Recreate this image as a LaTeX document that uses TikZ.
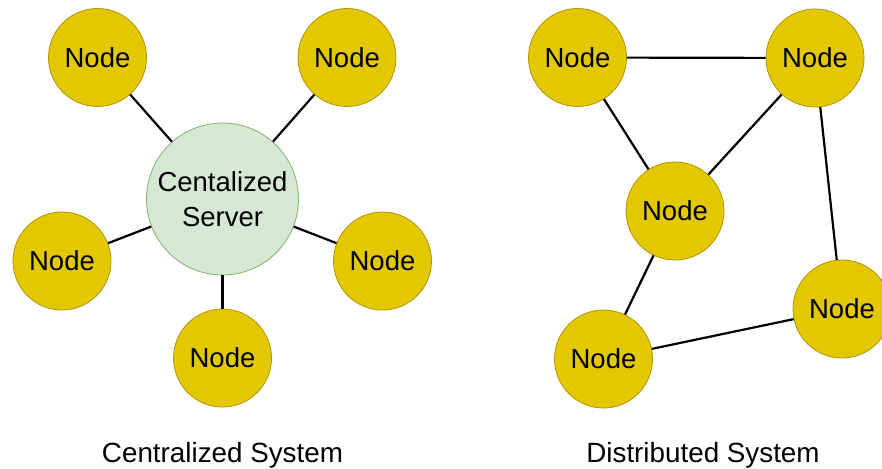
\documentclass[tikz,border=0pt]{standalone}
\usepackage{fontspec}
\setmainfont{Liberation Sans}
\usepackage{xcolor}
\definecolor{dnvang}{HTML}{E3C800}
\definecolor{dnvangdam}{HTML}{B09500}
\definecolor{dnxanhla}{HTML}{D5E8D4}
\definecolor{dnxanhladam}{HTML}{82B366}
\def\mauvang{dnvang}
\def\mauserver{dnxanhla}
\usepackage{tikz}
\usetikzlibrary{calc,positioning}

\begin{document}
\begin{tikzpicture}[x=1pt,y=-1pt,declare function={r=49;R=76;}]
		\tikzstyle{nodestyle} = [circle,draw=dnvangdam,fill=\mauvang,line width=.8pt,minimum size=2*r,inner sep=0pt,font=\fontsize{27.5}{30}\selectfont]
		\tikzstyle{serverstyle} = [circle,draw=dnxanhladam,fill=\mauserver,line width=.8pt,minimum size=2*R,inner sep=0pt,align=center,font=\fontsize{27.5}{35}\selectfont]
		\tikzstyle{linkstyle} = [line width=2.2pt,black]
		\tikzstyle{titlestyle} = [font=\fontsize{27.8}{30}\selectfont]
		\useasboundingbox[fill=white] (0,0) rectangle (882,468);
		% centralized system
		\node[serverstyle] (server) at (222.5,199) {Centalized\\Server};
		\node[nodestyle] (c1) at (97.5,57.5) {Node};
		\node[nodestyle] (c2) at (347,57.5) {Node};
		\node[nodestyle] (c3) at (62,261) {Node};
		\node[nodestyle] (c4) at (382.5,261) {Node};
		\node[nodestyle] (c5) at (222.5,358) {Node};
		\foreach \i in {1,...,5}
			\draw[linkstyle] (c\i) -- (server);
		\node[titlestyle] (ctitle) at (222.5,455) {Centralized System};
		% distributed system
		\node[nodestyle] (d1) at (577.5,57.5) {Node};
		\node[nodestyle] (d2) at (815,58) {Node};
		\node[nodestyle] (d3) at (675,211) {Node};
		\node[nodestyle] (d4) at (842,309) {Node};
		\node[nodestyle] (d5) at (603.5,359) {Node};
		\draw[linkstyle] (d1) -- (d2);
		\draw[linkstyle] (d1) -- (d3);
		\draw[linkstyle] (d2) -- (d3);
		\draw[linkstyle] (d2) -- (d4);
		\draw[linkstyle] (d3) -- (d5);
		\draw[linkstyle] (d5) -- (d4);
		\node[titlestyle] (dtitle) at (703,455) {Distributed System};
\end{tikzpicture}
\end{document}
